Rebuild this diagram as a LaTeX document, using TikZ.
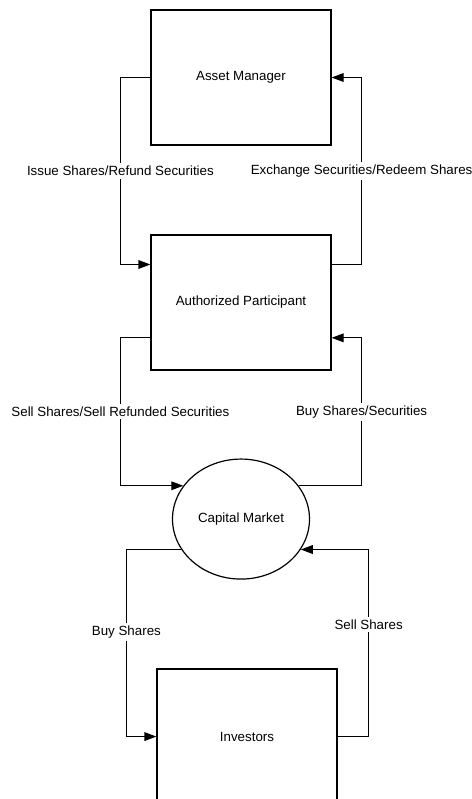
\documentclass[tikz,border=0pt]{standalone}
\usepackage{fontspec}
\setmainfont{Liberation Sans}
\usetikzlibrary{shapes.geometric, arrows.meta}
\usetikzlibrary{positioning}
\tikzstyle{party} = [rectangle, 
minimum width=135pt, 
minimum height=101.25pt,
text centered, 
draw=black, 
line width=0.9pt,
fill=white]
\tikzstyle{market} = [ellipse, 
minimum width=102.75pt, 
minimum height=90pt,
inner sep=0pt,
text centered, 
draw=black, 
line width=0.9pt,
fill=white]
\tikzstyle{line} = [draw, line width=0.9pt, -{Triangle[length=9pt,width=6.5pt]}]
\tikzstyle{flow} = [fill=white, inner sep=2pt]

\begin{document}
\begin{tikzpicture}[node distance= 66.6pt, font=\fontsize{10pt}{12pt}\selectfont]
\useasboundingbox (0,0) rectangle (353.25pt,-599.25pt);

\node [party] (am) at (180.75pt,-58.125pt) {Asset Manager};
\node [party, below = of am] (ap) {Authorized Participant};
\node [market, below = 65.9pt of ap] (cm) {Capital Market};
\node [party, below = of cm, xshift=4.5pt] (inv) {Investors};

\path [line](am.west) -- ++(-22.5pt,0) |- node[flow, pos=0.25] {Issue Shares/Refund Securities} ([yshift=28.5pt]ap.west);
\path [line]([yshift=28.5pt]ap.east) -- ++(22.5pt,0) |- node[flow, pos=0.25] {Exchange Securities/Redeem Shares} (am.east);

\path [line]([yshift=-26.5pt]ap.west) -- ++(-22.5pt,0) |- node[flow, pos=0.25] {Sell Shares/Sell Refunded Securities} (cm.150);
\path [line](cm.30) -| node[flow, pos=0.75] {Buy Shares/Securities} ([yshift=-26.5pt,xshift=22.5pt]ap.east) -- ([yshift=-26.5pt]ap.east);

\path [line](cm.207) -| node[flow, pos=0.72] {Buy Shares} ([xshift=-22.5pt]inv.west) -- (inv.west);
\path [line](inv.east) -- ++(23.25pt,0) |- node[flow, pos=0.3] {Sell Shares} (cm.-27);

\end{tikzpicture}
\end{document}
